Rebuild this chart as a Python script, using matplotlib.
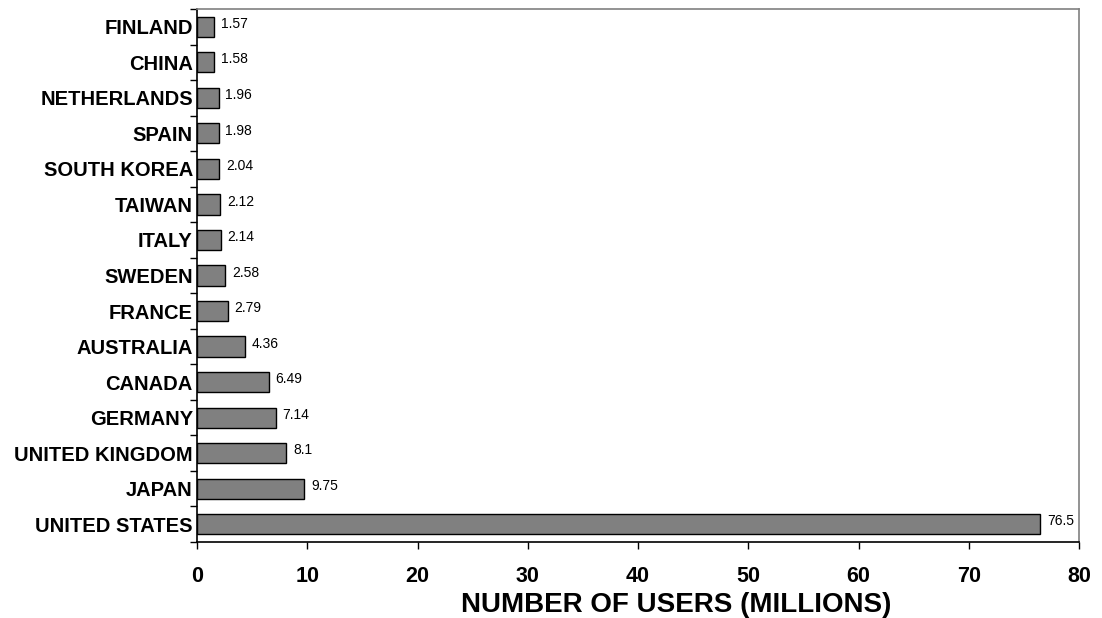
import matplotlib
matplotlib.use("Agg")
import matplotlib.pyplot as plt
import numpy as np

plt.rcParams['font.family'] = ['Liberation Sans', 'DejaVu Sans']

# страны снизу вверх
countries = ["UNITED STATES", "JAPAN", "UNITED KINGDOM", "GERMANY", "CANADA",
             "AUSTRALIA", "FRANCE", "SWEDEN", "ITALY", "TAIWAN",
             "SOUTH KOREA", "SPAIN", "NETHERLANDS", "CHINA", "FINLAND"]
users = [76.5, 9.75, 8.1, 7.14, 6.49, 4.36, 2.79, 2.58, 2.14, 2.12,
         2.04, 1.98, 1.96, 1.58, 1.57]
value_labels = ["76.5", "9.75", "8.1", "7.14", "6.49", "4.36", "2.79", "2.58",
                "2.14", "2.12", "2.04", "1.98", "1.96", "1.58", "1.57"]
x_ticks = [0, 10, 20, 30, 40, 50, 60, 70, 80]

fig = plt.figure(figsize=(11.02, 6.18), dpi=100)
ax = fig.add_axes([197 / 1102, 1 - 542 / 618, 882 / 1102, 533 / 618])

y = np.arange(len(countries))
ax.barh(y, users, height=0.57, color="#808080", edgecolor="black", linewidth=1)

for yi, v, lab in zip(y, users, value_labels):
    ax.text(v + 0.6, yi + 0.08, lab, va="center", ha="left", fontsize=10)

ax.set_xlim(0, 80)
ax.set_ylim(-0.5, len(countries) - 0.5)
ax.set_xticks(x_ticks)
ax.set_xticklabels([str(t) for t in x_ticks], fontsize=15.5, fontweight="bold")
ax.set_yticks(y)
ax.set_yticklabels(countries, fontsize=14.5, fontweight="bold")
ax.tick_params(axis="y", length=0, pad=3)
# засечки между категориями
ax.set_yticks(np.arange(-0.5, len(countries), 1), minor=True)
ax.tick_params(axis="y", which="minor", length=5, width=1, direction="out")
ax.tick_params(axis="x", length=5, width=1, direction="out", pad=12)

ax.spines["left"].set_color("black")
ax.spines["bottom"].set_color("black")
ax.spines["top"].set_color("#808080")
ax.spines["right"].set_color("#808080")
for s in ax.spines.values():
    s.set_linewidth(1.2)

ax.set_xlabel("NUMBER OF USERS (MILLIONS)", fontsize=20, fontweight="bold")
ax.xaxis.set_label_coords(0.543, -0.094)

fig.savefig("out.png", dpi=100)
